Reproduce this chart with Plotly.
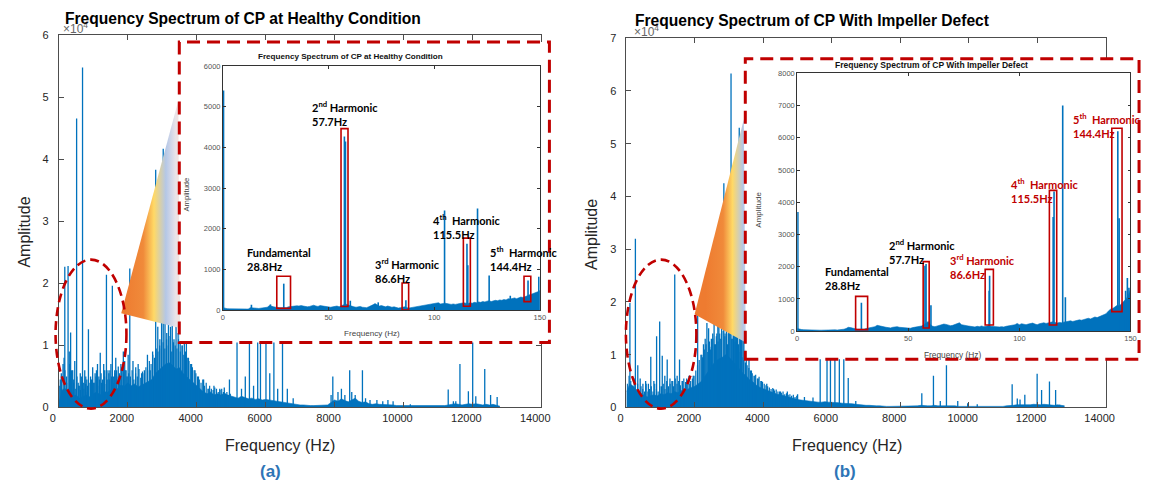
import plotly.graph_objects as go

W, H = 1151, 491
BLUE = '#0072BD'
RED = '#C00000'
AXC = '#4d4d4d'
TXT = '#262626'
ARIAL = 'Liberation Sans, Arial, Helvetica, sans-serif'
CAL = 'Lato, Carlito, Calibri, sans-serif'


def fx(p):
    return p / W


def fy(p):
    return 1 - p / H


# ======================= DATA =======================
# main spectra: broadband floor in 100 Hz bins (amplitude x 1e4)
main_bins_hz = list(range(0, 12900, 100))

noise_a = [0.08, 0.28, 0.30, 0.22, 0.18, 0.20, 0.15, 0.18, 0.20, 0.17,
           0.22, 0.25, 0.20, 0.26, 0.24, 0.28, 0.32, 0.30, 0.36, 0.34,
           0.40, 0.35, 0.38, 0.33, 0.36, 0.40, 0.42, 0.45, 0.55, 0.60,
           0.65, 0.70, 0.72, 0.68, 0.62, 0.64, 0.55, 0.50, 0.45, 0.40,
           0.36, 0.30, 0.25, 0.22, 0.25, 0.20, 0.22, 0.20, 0.23, 0.20,
           0.18, 0.17, 0.15, 0.18, 0.16, 0.14, 0.15, 0.13, 0.14, 0.12,
           0.13, 0.12, 0.11, 0.10, 0.10, 0.09, 0.08, 0.07, 0.06, 0.05,
           0.04, 0.04, 0.03, 0.03, 0.03, 0.03, 0.03, 0.03, 0.04, 0.08,
           0.12, 0.10, 0.14, 0.11, 0.09, 0.12, 0.15, 0.10, 0.08, 0.09,
           0.06, 0.05, 0.06, 0.05, 0.05, 0.04, 0.04, 0.04, 0.03, 0.03,
           0.03, 0.03, 0.02, 0.02, 0.02, 0.02, 0.02, 0.02, 0.02, 0.02,
           0.03, 0.03, 0.03, 0.04, 0.05, 0.06, 0.05, 0.04, 0.05, 0.06,
           0.05, 0.06, 0.05, 0.04, 0.05, 0.04, 0.05, 0.04, 0.02]

noise_b = [0.30, 0.45, 0.40, 0.32, 0.28, 0.24, 0.20, 0.22, 0.24, 0.22,
           0.26, 0.24, 0.28, 0.26, 0.30, 0.28, 0.32, 0.30, 0.35, 0.38,
           0.40, 0.45, 0.50, 0.60, 0.70, 0.80, 0.88, 0.92, 0.95, 1.00,
           0.95, 0.88, 0.80, 0.72, 0.65, 0.60, 0.52, 0.48, 0.42, 0.38,
           0.35, 0.32, 0.30, 0.28, 0.25, 0.24, 0.22, 0.20, 0.18, 0.17,
           0.15, 0.14, 0.13, 0.12, 0.12, 0.11, 0.10, 0.10, 0.11, 0.10,
           0.10, 0.09, 0.09, 0.08, 0.08, 0.07, 0.07, 0.06, 0.05, 0.05,
           0.04, 0.04, 0.03, 0.03, 0.03, 0.02, 0.02, 0.02, 0.02, 0.02,
           0.02, 0.02, 0.02, 0.03, 0.03, 0.03, 0.04, 0.03, 0.03, 0.03,
           0.04, 0.03, 0.03, 0.03, 0.04, 0.03, 0.03, 0.02, 0.02, 0.02,
           0.02, 0.02, 0.01, 0.01, 0.01, 0.01, 0.01, 0.01, 0.01, 0.02,
           0.02, 0.03, 0.03, 0.04, 0.05, 0.05, 0.05, 0.04, 0.05, 0.06,
           0.05, 0.05, 0.06, 0.05, 0.05, 0.04, 0.05, 0.04, 0.03]

# dense minor lines, 50 Hz apart starting at 25 Hz (amplitude x 1e4)
minor_bins_hz = list(range(25, 5000, 50))

minor_a = [0.35, 0.50, 0.30, 0.60, 0.40, 0.30, 0.45, 0.25, 0.40, 0.30,
           0.50, 0.35, 0.28, 0.42, 0.30, 0.38, 0.25, 0.40, 0.32, 0.45,
           0.40, 0.50, 0.35, 0.45, 0.55, 0.40, 0.50, 0.38, 0.60, 0.45,
           0.50, 0.40, 0.55, 0.60, 0.45, 0.50, 0.65, 0.55, 0.60, 0.50,
           0.55, 0.50, 0.60, 0.45, 0.55, 0.50, 0.62, 0.48, 0.58, 0.55,
           0.65, 0.60, 0.75, 0.70, 0.85, 0.80, 0.95, 0.90, 1.00, 0.95,
           1.05, 0.95, 1.10, 1.00, 1.15, 0.90, 1.05, 1.00, 0.95, 1.10,
           0.90, 1.00, 0.85, 0.90, 0.80, 0.75, 0.70, 0.65, 0.60, 0.55,
           0.50, 0.45, 0.40, 0.45, 0.35, 0.40, 0.30, 0.35, 0.30, 0.28,
           0.32, 0.30, 0.25, 0.28, 0.30, 0.25, 0.22, 0.25, 0.20, 0.22]

minor_b = [0.45, 0.60, 0.50, 0.40, 0.55, 0.35, 0.45, 0.30, 0.40, 0.35,
           0.30, 0.45, 0.30, 0.35, 0.40, 0.30, 0.45, 0.35, 0.30, 0.40,
           0.40, 0.45, 0.35, 0.50, 0.40, 0.45, 0.50, 0.40, 0.55, 0.45,
           0.50, 0.42, 0.50, 0.55, 0.48, 0.52, 0.60, 0.50, 0.55, 0.60,
           0.70, 0.80, 0.90, 1.00, 0.95, 1.10, 1.20, 1.05, 1.25, 1.15,
           1.30, 1.20, 1.35, 1.25, 1.40, 1.30, 1.45, 1.35, 1.50, 1.40,
           1.45, 1.30, 1.35, 1.25, 1.20, 1.10, 1.05, 0.95, 0.90, 0.85,
           0.80, 0.75, 0.70, 0.65, 0.60, 0.62, 0.55, 0.58, 0.50, 0.48,
           0.45, 0.42, 0.40, 0.38, 0.35, 0.37, 0.32, 0.34, 0.30, 0.30,
           0.28, 0.30, 0.25, 0.27, 0.24, 0.25, 0.22, 0.24, 0.20, 0.22]

# discrete spectral lines (Hz, amplitude x 1e4)
peaks_a = [
    (40, 0.45), (70, 0.55), (120, 0.7), (150, 0.8), (171, 2.27), (220, 0.5), (266, 2.28), (300, 0.9), (314, 0.7), (340, 1.21),
    (370, 0.6), (400, 0.6), (430, 0.45), (460, 0.75), (514, 4.66), (560, 0.4), (590, 0.35), (620, 0.55), (650, 0.5), (686, 5.48),
    (720, 0.4), (750, 0.6), (780, 0.5), (810, 0.45), (830, 0.35), (857, 1.26), (920, 0.5), (950, 0.45), (980, 0.65), (1010, 0.4),
    (1050, 0.55), (1090, 0.6), (1120, 0.7), (1160, 0.5), (1200, 0.88), (1240, 0.4), (1270, 0.45), (1300, 0.7), (1330, 0.6), (1380, 2.14),
    (1420, 0.45), (1450, 0.55), (1480, 0.6), (1510, 0.7), (1551, 1.96), (1590, 0.5), (1620, 0.6), (1650, 0.8), (1680, 0.5), (1723, 0.66),
    (1760, 0.55), (1800, 0.7), (1830, 0.6), (1870, 0.9), (1910, 0.75), (1950, 0.6), (1980, 0.5), (2010, 0.85), (2057, 2.24), (2150, 0.75),
    (2230, 0.65), (2300, 0.7), (2400, 0.55), (2480, 0.6), (2570, 0.85), (2650, 0.6), (2720, 0.9), (2809, 3.83), (2870, 1.3), (2930, 1.1),
    (2980, 1.5), (3028, 4.17), (3080, 1.4), (3130, 1.2), (3180, 1.6), (3240, 1.3), (3290, 1.5), (3340, 1.1), (3400, 1.9), (3460, 1.2),
    (3520, 1.8), (3580, 1.0), (3640, 1.3), (3700, 1.2), (3760, 0.8), (3850, 0.7), (3950, 0.6), (4050, 0.5), (4200, 0.45), (4350, 0.3),
    (4500, 0.35), (4670, 0.3), (4800, 0.32), (4950, 0.45), (5170, 1.3), (5300, 0.3), (5410, 0.5), (5530, 1.3), (5650, 0.35), (5770, 1.3),
    (5850, 1.3), (6010, 1.3), (6120, 0.55), (6240, 1.3), (6350, 0.3), (6490, 1.3), (6630, 0.3), (6800, 0.15), (7900, 0.2), (7950, 0.5),
    (8100, 0.25), (8200, 0.3), (8300, 0.2), (8440, 0.6), (8500, 0.25), (8600, 0.2), (8810, 0.6), (8900, 0.15), (9030, 0.12), (9230, 0.12),
    (9400, 0.1), (9550, 0.12), (9700, 0.1), (10200, 0.05), (11300, 0.29), (11450, 0.1), (11520, 0.1), (11640, 0.7), (11885, 0.26), (12010, 1.3),
    (12100, 0.18), (12360, 0.62), (12530, 0.2), (12720, 0.17),
]

peaks_b = [
    (100, 1.98), (260, 3.2), (330, 0.8), (400, 0.55), (480, 0.45), (560, 0.5), (640, 0.45), (710, 0.96), (800, 0.5), (880, 1.35),
    (970, 1.63), (1045, 0.98), (1120, 0.6), (1190, 0.91), (1270, 0.55), (1350, 0.5), (1410, 2.52), (1480, 0.6), (1550, 0.91), (1640, 0.5),
    (1760, 0.55), (1850, 0.45), (1950, 0.6), (2080, 1.75), (2200, 1.0), (2250, 1.2), (2300, 1.3), (2350, 1.6), (2400, 1.5), (2450, 1.1),
    (2480, 1.3), (2520, 1.4), (2560, 1.6), (2600, 1.2), (2640, 1.4), (2670, 1.9), (2700, 1.7), (2740, 1.3), (2780, 1.5), (2845, 4.25),
    (2880, 1.4), (2920, 1.6), (2950, 1.2), (2990, 1.8), (3020, 1.5), (3055, 6.33), (3090, 1.3), (3120, 1.7), (3150, 1.9), (3180, 1.5),
    (3210, 1.4), (3240, 1.6), (3270, 1.2), (3295, 5.3), (3330, 1.5), (3360, 1.4), (3400, 1.6), (3430, 1.3), (3500, 1.1), (3580, 0.9),
    (3650, 0.7), (3750, 0.6), (3850, 0.55), (3950, 0.5), (4100, 0.45), (4300, 0.35), (4500, 0.3), (4700, 0.3), (5000, 0.25), (5200, 0.2),
    (5450, 0.19), (5660, 1.2), (5860, 1.2), (5960, 1.2), (6090, 1.2), (6220, 1.2), (6350, 1.2), (6480, 0.56), (6700, 0.12), (8630, 0.27),
    (8970, 0.6), (9170, 0.12), (9350, 0.8), (9680, 0.12), (9970, 0.08), (10250, 0.06), (11270, 0.44), (11420, 0.17), (11500, 0.15), (11640, 0.24),
    (12000, 0.64), (12130, 0.33), (12360, 0.49), (12540, 0.33), (12660, 0.05),
]

# zoomed spectra 0-150 Hz: floor in 1 Hz bins (amplitude)
inset_bins_hz = list(range(0, 151))

inset_noise_a = [60, 40, 35, 30, 30, 28, 25, 25, 25, 25,
                 25, 25, 25, 60, 50, 40, 45, 40, 50, 55,
                 60, 70, 110, 90, 80, 70, 60, 55, 60, 55,
                 60, 80, 90, 100, 110, 105, 100, 110, 100, 90,
                 80, 90, 100, 120, 100, 90, 110, 100, 90, 80,
                 70, 70, 80, 90, 100, 80, 100, 120, 150, 130,
                 110, 90, 80, 70, 80, 90, 70, 60, 60, 80,
                 100, 130, 160, 120, 100, 110, 90, 80, 100, 90,
                 70, 80, 60, 50, 60, 70, 80, 60, 50, 60,
                 70, 80, 80, 90, 100, 110, 120, 130, 140, 150,
                 160, 170, 180, 150, 160, 170, 160, 150, 140, 150,
                 140, 150, 160, 170, 180, 170, 160, 180, 170, 190,
                 180, 200, 190, 210, 200, 220, 230, 210, 220, 240,
                 230, 250, 240, 260, 250, 280, 270, 290, 300, 280,
                 300, 320, 310, 330, 340, 360, 380, 400, 420, 450,
                 480]

inset_noise_b = [80, 60, 50, 45, 40, 40, 35, 35, 30, 30,
                 30, 30, 35, 30, 30, 35, 40, 40, 35, 40,
                 50, 60, 80, 120, 110, 90, 70, 60, 60, 55,
                 60, 80, 90, 100, 110, 140, 180, 160, 150, 130,
                 120, 110, 100, 120, 130, 140, 120, 110, 100, 110,
                 100, 90, 110, 120, 150, 140, 160, 200, 250, 300,
                 200, 150, 140, 160, 180, 200, 220, 210, 190, 170,
                 180, 200, 220, 260, 200, 180, 170, 160, 150, 140,
                 130, 150, 140, 160, 140, 150, 170, 150, 140, 130,
                 120, 130, 140, 130, 150, 160, 170, 190, 200, 240,
                 200, 230, 210, 200, 220, 230, 250, 220, 200, 230,
                 250, 260, 240, 250, 280, 290, 270, 250, 270, 260,
                 280, 300, 310, 320, 300, 320, 330, 350, 340, 360,
                 380, 400, 380, 420, 440, 420, 450, 470, 500, 540,
                 620, 680, 700, 750, 800, 780, 850, 900, 1000, 1100,
                 1300]

inset_peaks_a = [(0.3, 5400), (13.5, 130), (22.5, 140), (28.8, 650), (57.5, 4270), (58.0, 4150),
                 (60.3, 230), (73.5, 190), (86.6, 240), (104.9, 2450), (115.5, 1630), (115.9, 1100),
                 (120.5, 2500), (126.0, 850), (136.0, 350), (144.4, 730), (145.1, 380), (149.5, 820)]

inset_peaks_b = [(0.3, 3700), (28.9, 880), (57.5, 2030), (58.0, 2080), (60.2, 800), (86.4, 1250),
                 (86.6, 1720), (115.2, 3540), (115.6, 4330), (119.5, 7000), (120.7, 1050),
                 (144.3, 6200), (144.9, 3500), (147.8, 1250), (148.6, 1650), (149.3, 1350)]

harmonic_text_a = ['Fundamental<br>28.8Hz', '2<sup>nd</sup> Harmonic<br>57.7Hz',
                   '3<sup>rd</sup> Harmonic<br>86.6Hz', '4<sup>th</sup>\u00a0 Harmonic<br>115.5Hz',
                   '5<sup>th</sup>\u00a0 Harmonic<br>144.4Hz']
harmonic_text_b = harmonic_text_a

main_xticks = [0, 2000, 4000, 6000, 8000, 10000, 12000, 14000]
main_xtick_text = ['0', '2000', '4000', '6000', '8000', '10000', '12000', '14000']
inset_xticks = [0, 50, 100, 150]
inset_ytick_a = [0, 1000, 2000, 3000, 4000, 5000, 6000]
inset_ytick_b = [0, 1000, 2000, 3000, 4000, 5000, 6000, 7000, 8000]

# ======================= LAYOUT CONSTANTS (pixels / data boxes) =======================
harm_pos_a = [(10.6, 1253), (41.3, 4841), (71.1, 977), (98.5, 2057), (125.5, 1265)]
harm_pos_b = [(11.65, 1619), (40.6, 2461), (68.0, 1998), (95.2, 4377), (123.3, 6381)]
harm_col_a = ['#000000'] * 5
harm_col_b = ['#000000', '#000000', RED, RED, RED]
box_a = [(25.5, 32.0, 41, 833), (55.9, 59.2, 89, 4464), (84.8, 87.9, 0, 665),
         (113.8, 117.1, 96, 1769), (142.5, 145.7, 209, 833)]
box_b = [(26.3, 31.7, 48, 1078), (56.7, 59.4, 100, 2158), (84.6, 88.3, 191, 1916),
         (113.5, 116.8, 191, 4368), (141.6, 146.2, 605, 6296)]

inset_rect_a = (173, 37, 549, 345)
inset_rect_b = (748, 54, 1148, 362)
beam_a = [(114, 315), (172, 97), (173.5, 330)]
beam_b = [(696.5, 316), (746.5, 116), (748.5, 345)]
ellipse_a = (47.3, 260, 119.3, 412.7)
ellipse_b = (626.7, 260, 698.3, 412.7)
BEAM_SCALE = [[0, '#EE7B30'], [0.34, '#F08A3A'], [0.52, '#FFD966'], [0.72, '#B4C7E7'],
              [0.88, '#E8E2E8'], [1, '#FBE5D6']]


def stems(xs, ys):
    X, Y = [], []
    for f, a in zip(xs, ys):
        X += [f, f, None]
        Y += [0, a, None]
    return X, Y


fig = go.Figure()


def spectrum(bins, floor, peaks, xa, ya, lw, mbins=None, minor=None):
    fig.add_trace(go.Scatter(x=bins, y=floor, mode='lines', line=dict(color=BLUE, width=0.6),
                             fill='tozeroy', fillcolor=BLUE, xaxis=xa, yaxis=ya, hoverinfo='skip'))
    if minor is not None:
        X, Y = stems(mbins, minor)
        fig.add_trace(go.Scatter(x=X, y=Y, mode='lines', line=dict(color=BLUE, width=1.2),
                                 xaxis=xa, yaxis=ya, hoverinfo='skip'))
    X, Y = stems([p[0] for p in peaks], [p[1] for p in peaks])
    fig.add_trace(go.Scatter(x=X, y=Y, mode='lines', line=dict(color=BLUE, width=lw),
                             xaxis=xa, yaxis=ya, hoverinfo='skip'))


spectrum(main_bins_hz, noise_a, peaks_a, 'x', 'y', 1.3, minor_bins_hz, minor_a)
spectrum(main_bins_hz, noise_b, peaks_b, 'x2', 'y2', 1.3, minor_bins_hz, minor_b)

# decoration layer (paper-fraction coordinates)
for (x0, y0, x1, y1) in [inset_rect_a, inset_rect_b]:
    fig.add_trace(go.Scatter(x=[fx(x0), fx(x1), fx(x1), fx(x0), fx(x0)],
                             y=[fy(y0), fy(y0), fy(y1), fy(y1), fy(y0)],
                             fill='toself', fillcolor='white', mode='lines',
                             line=dict(width=0, color='white'), xaxis='x3', yaxis='y3', hoverinfo='skip'))
for poly in [beam_a, beam_b]:
    xs = [fx(p[0]) for p in poly]
    fig.add_trace(go.Scatter(x=xs + [xs[0]],
                             y=[fy(p[1]) for p in poly] + [fy(poly[0][1])],
                             fill='toself',
                             fillgradient=dict(type='horizontal', colorscale=BEAM_SCALE,
                                               start=min(xs), stop=max(xs)),
                             mode='lines', line=dict(width=0), xaxis='x3', yaxis='y3', hoverinfo='skip'))

spectrum(inset_bins_hz, inset_noise_a, inset_peaks_a, 'x4', 'y4', 1.6)
spectrum(inset_bins_hz, inset_noise_b, inset_peaks_b, 'x5', 'y5', 1.6)

main_ax = dict(showline=True, linecolor=AXC, linewidth=1, mirror='ticks', ticks='inside',
               ticklen=5, tickcolor=AXC, showgrid=False, zeroline=False,
               tickfont=dict(family=ARIAL, size=11, color=TXT), exponentformat='none')
inset_ax = dict(showline=True, linecolor='#333333', linewidth=0.8, mirror='ticks', ticks='inside',
                ticklen=3, tickcolor='#333333', showgrid=False, zeroline=False,
                tickfont=dict(family=ARIAL, size=7.5, color='#555555'), exponentformat='none')

fig.update_layout(
    width=W, height=H, margin=dict(l=0, r=0, t=0, b=0),
    paper_bgcolor='white', plot_bgcolor='rgba(0,0,0,0)', showlegend=False,
    xaxis=dict(domain=[fx(50.7), fx(540.7)], anchor='y', range=[0, 14000], tickvals=main_xticks,
               ticktext=main_xtick_text, ticklabelshift=-6, **main_ax),
    yaxis=dict(domain=[fy(411.5), fy(30)], anchor='x', range=[0, 6], tickvals=[0, 1, 2, 3, 4, 5, 6],
               ticklabelstandoff=7, **main_ax),
    xaxis2=dict(domain=[fx(627.3), fx(1114)], anchor='y2', range=[0, 14000], tickvals=main_xticks,
                ticktext=main_xtick_text, ticklabelshift=-6, **main_ax),
    yaxis2=dict(domain=[fy(411.5), fy(33)], anchor='x2', range=[0, 7], tickvals=[0, 1, 2, 3, 4, 5, 6, 7],
                ticklabelstandoff=7, **main_ax),
    xaxis3=dict(domain=[0, 1], range=[0, 1], visible=False, anchor='y3', fixedrange=True),
    yaxis3=dict(domain=[0, 1], range=[0, 1], visible=False, anchor='x3', fixedrange=True),
    xaxis4=dict(domain=[fx(217.3), fx(539.3)], anchor='y4', range=[0, 150], tickvals=inset_xticks, **inset_ax),
    yaxis4=dict(domain=[fy(311.7), fy(61.7)], anchor='x4', range=[0, 6000],
                tickvals=inset_ytick_a, ticktext=[str(v) for v in inset_ytick_a], **inset_ax),
    xaxis5=dict(domain=[fx(800.7), fx(1139.3)], anchor='y5', range=[0, 150], tickvals=inset_xticks, **inset_ax),
    yaxis5=dict(domain=[fy(333.3), fy(69)], anchor='x5', range=[0, 8000],
                tickvals=inset_ytick_b, ticktext=[str(v) for v in inset_ytick_b], **inset_ax),
)

shapes = []
for (x0, y0, x1, y1) in [inset_rect_a, inset_rect_b]:
    shapes.append(dict(type='rect', xref='paper', yref='paper', x0=fx(x0), x1=fx(x1), y0=fy(y1), y1=fy(y0),
                       line=dict(color=RED, width=3, dash='13px,7px'), layer='above'))
for (x0, y0, x1, y1) in [ellipse_a, ellipse_b]:
    shapes.append(dict(type='circle', xref='paper', yref='paper', x0=fx(x0), x1=fx(x1), y0=fy(y1), y1=fy(y0),
                       line=dict(color=RED, width=2.6, dash='9px,5px'), layer='above'))
for boxes, xr, yr in [(box_a, 'x4', 'y4'), (box_b, 'x5', 'y5')]:
    for (a0, a1, b0, b1) in boxes:
        shapes.append(dict(type='rect', xref=xr, yref=yr, x0=a0, x1=a1, y0=b0, y1=b1,
                           line=dict(color=RED, width=1.6), layer='above'))
fig.update_layout(shapes=shapes)

anns = []


def note(text, x, y, size, color=TXT, family=ARIAL, xanchor='center', yanchor='middle',
         angle=0, xref='paper', yref='paper', align='center'):
    anns.append(dict(text=text, x=x, y=y, xref=xref, yref=yref, xanchor=xanchor, yanchor=yanchor,
                     showarrow=False, textangle=angle, align=align,
                     font=dict(family=family, size=size, color=color)))


# exponent markers then titles
note('\u00d710<sup>4</sup>', fx(53), fy(23), 12, color='#666666', xanchor='left')
note('\u00d710<sup>4</sup>', fx(633), fy(25.5), 12, color='#666666', xanchor='left')
note('<b>Frequency Spectrum of CP at Healthy Condition</b>', fx(54.5), fy(12.5), 15.6,
     color='#000000', xanchor='left')
note('<b>Frequency Spectrum of CP With Impeller Defect</b>', fx(633.5), fy(14.5), 15.6,
     color='#000000', xanchor='left')
note('Amplitude', fx(15.5), fy(232), 16, angle=-90)
note('Amplitude', fx(592), fy(234), 16, angle=-90)
note('Frequency (Hz)', fx(275.7), fy(450), 16)
note('Frequency (Hz)', fx(851.5), fy(450), 16)
note('<b>(a)</b>', fx(265.4), fy(477), 17, color='#2E75B6')
note('<b>(b)</b>', fx(849), fy(477), 17, color='#2E75B6')

# inset texts
note('<b>Frequency Spectrum of CP at Healthy Condition</b>', fx(346.7), fy(52), 8.1, color='#111111')
note('<b>Frequency Spectrum of CP With Impeller Defect</b>', fx(937), fy(60), 8.5, color='#111111')
note('Frequency (Hz)', fx(369), fy(336), 8.1, color='#444444')
note('Frequency (Hz)', fx(958), fy(358), 8.3, color='#444444')
note('Amplitude', fx(180), fy(193), 7.6, color='#444444', angle=-90)
note('Amplitude', fx(761.7), fy(209), 8, color='#444444', angle=-90)

for texts, pos, cols, xr, yr in [(harmonic_text_a, harm_pos_a, harm_col_a, 'x4', 'y4'),
                                 (harmonic_text_b, harm_pos_b, harm_col_b, 'x5', 'y5')]:
    for t, (hx, hy), c in zip(texts, pos, cols):
        note('<b>' + t + '</b>', hx, hy, 11, color=c, family=CAL, xanchor='left',
             xref=xr, yref=yr, align='left')

fig.update_layout(annotations=anns)
fig.write_html('out.html')
